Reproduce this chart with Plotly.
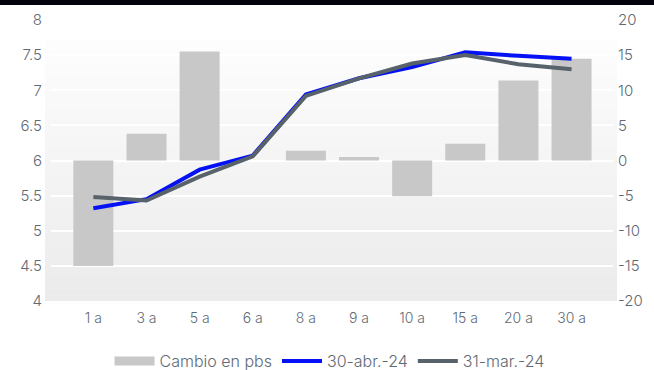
import plotly.graph_objects as go

categories = ["1 a", "3 a", "5 a", "6 a", "8 a", "9 a", "10 a", "15 a", "20 a", "30 a"]
cambio_pbs = [-15.0, 3.8, 15.5, 0.0, 1.4, 0.5, -5.1, 2.4, 11.4, 14.5]
abr_24 = [5.32, 5.45, 5.87, 6.07, 6.94, 7.17, 7.33, 7.54, 7.49, 7.45]
mar_24 = [5.48, 5.43, 5.77, 6.06, 6.92, 7.17, 7.38, 7.50, 7.37, 7.30]

left_ticks = [4, 4.5, 5, 5.5, 6, 6.5, 7, 7.5, 8]
left_labels = ["4", "4.5", "5", "5.5", "6", "6.5", "7", "7.5", "8"]
right_ticks = [-20, -15, -10, -5, 0, 5, 10, 15, 20]
right_labels = ["-20", "-15", "-10", "-5", "0", "5", "10", "15", "20"]

FONT = "Inter"
TXT = "#5f6a74"

fig = go.Figure()
# bars on the primary (right-side) axis so the lines on the overlaying axis sit on top
fig.add_trace(go.Bar(x=categories, y=cambio_pbs, yaxis="y", name="Cambio en pbs",
                     marker=dict(color="#c8c8c8", line=dict(width=0)), width=0.753,
                     showlegend=False))
fig.add_trace(go.Scatter(x=[None], y=[None], yaxis="y", mode="lines", name="Cambio en pbs",
                         line=dict(color="#c8c8c8", width=9)))
fig.add_trace(go.Scatter(x=categories, y=abr_24, yaxis="y2", mode="lines", name="30-abr.-24",
                         line=dict(color="#0511f5", width=4)))
fig.add_trace(go.Scatter(x=categories, y=mar_24, yaxis="y2", mode="lines", name="31-mar.-24",
                         line=dict(color="#58626b", width=4)))

# gradient background
shapes = []
N = 50
top_y, bot_y = 0.932, 0.0
c0, c1 = 253, 235
for i in range(N):
    y0 = bot_y + (top_y - bot_y) * i / N
    y1 = bot_y + (top_y - bot_y) * (i + 1) / N + 0.002
    t = i / (N - 1)
    c = round(c1 + (c0 - c1) * t)
    shapes.append(dict(type="rect", xref="paper", yref="paper", x0=-0.0107, x1=1.0071,
                       y0=y0, y1=min(y1, top_y), fillcolor=f"rgb({c},{c},{c})",
                       line=dict(width=0), layer="below"))
# top black bar
shapes.append(dict(type="rect", xref="paper", yref="paper", x0=-0.1, x1=1.1,
                   y0=1.0534, y1=1.09, fillcolor="#03030e", line=dict(width=0), layer="above"))

fig.update_layout(
    width=654, height=370,
    margin=dict(l=51, r=41, t=20, b=69, autoexpand=False),
    paper_bgcolor="white", plot_bgcolor="rgba(0,0,0,0)",
    font=dict(family=FONT, size=15, color=TXT, weight=300),
    shapes=shapes,
    xaxis=dict(range=[-0.797, 9.78], showgrid=False, showline=False, ticks="",
               zeroline=False, ticklabelstandoff=7,
               tickfont=dict(size=14, color=TXT, weight=300)),
    yaxis=dict(range=[-20, 20], tickvals=right_ticks, ticktext=right_labels,
               side="right", showgrid=False, zeroline=False,
               showline=False, ticks="", ticklabelstandoff=4,
               tickfont=dict(size=15, color=TXT, weight=300)),
    yaxis2=dict(range=[4, 8], tickvals=left_ticks, ticktext=left_labels,
                overlaying="y", side="left",
                showgrid=True, gridcolor="white", gridwidth=2, zeroline=False,
                showline=False, ticks="", ticklabelstandoff=8,
                tickfont=dict(size=15, color=TXT, weight=300)),
    legend=dict(orientation="h", x=0.4956, xanchor="center", y=-0.2135,
                yanchor="middle", font=dict(size=16, color=TXT, weight=300),
                itemwidth=40, tracegroupgap=0, bgcolor="rgba(0,0,0,0)"),
)

fig.write_html("out.html")
